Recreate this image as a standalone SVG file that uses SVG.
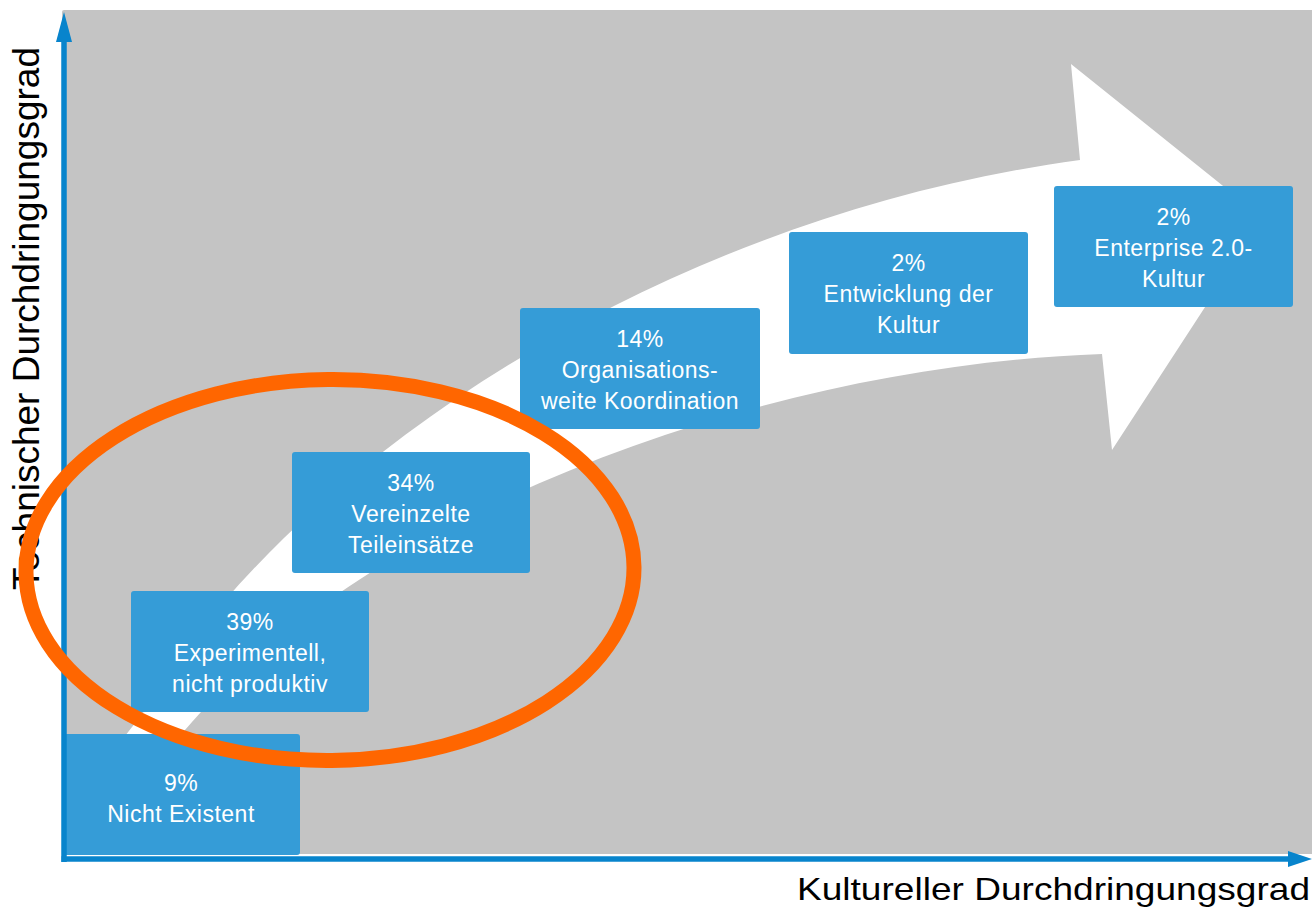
<svg xmlns="http://www.w3.org/2000/svg" width="1312" height="909" viewBox="0 0 1312 909">
<style>
.box{fill:#359cd7;}
.bt{font-family:"Liberation Sans",Arial,sans-serif;font-size:23px;fill:#ffffff;text-anchor:middle;letter-spacing:0.5px;}
.ax{stroke:#0884cc;stroke-width:5.5;fill:none;}
.ah{fill:#0884cc;}
.al{font-family:"Liberation Sans",Arial,sans-serif;fill:#000000;}
</style>
<rect width="1312" height="909" fill="#ffffff"/>
<rect x="62" y="10" width="1260" height="844" rx="2" fill="#c4c4c4"/>
<g id="big-arrow">
<path d="M 114 750 L 143 713 C 280 480, 640 220, 1080 160 L 1071 64 L 1263 218 L 1112 450 L 1102 354 C 780 365, 380 500, 185 730 L 160 760 Z" fill="#ffffff"/>
</g>
<g id="node-nicht-existent">
<rect class="box" x="62" y="734" width="238" height="121" rx="3"/>
<text class="bt" x="181" y="791">9%</text>
<text class="bt" x="181" y="822">Nicht Existent</text>
</g>
<g id="node-experimentell">
<rect class="box" x="131" y="591" width="238" height="121" rx="3"/>
<text class="bt" x="250" y="629.5">39%</text>
<text class="bt" x="250" y="660.5">Experimentell,</text>
<text class="bt" x="250" y="691.5">nicht produktiv</text>
</g>
<g id="node-vereinzelte">
<rect class="box" x="292" y="452" width="238" height="121" rx="3"/>
<text class="bt" x="411" y="490.5">34%</text>
<text class="bt" x="411" y="521.5">Vereinzelte</text>
<text class="bt" x="411" y="552.5">Teileinsätze</text>
</g>
<g id="node-organisation">
<rect class="box" x="520" y="308" width="240" height="121" rx="3"/>
<text class="bt" x="640" y="346.5">14%</text>
<text class="bt" x="640" y="377.5">Organisations-</text>
<text class="bt" x="640" y="408.5">weite Koordination</text>
</g>
<g id="node-entwicklung">
<rect class="box" x="789" y="232" width="239" height="122" rx="3"/>
<text class="bt" x="908.5" y="271">2%</text>
<text class="bt" x="908.5" y="302">Entwicklung der</text>
<text class="bt" x="908.5" y="333">Kultur</text>
</g>
<g id="node-enterprise">
<rect class="box" x="1054" y="186" width="239" height="121" rx="3"/>
<text class="bt" x="1173.5" y="224.5">2%</text>
<text class="bt" x="1173.5" y="255.5">Enterprise 2.0-</text>
<text class="bt" x="1173.5" y="286.5">Kultur</text>
</g>
<g id="connectors">
<line class="ax" x1="64" y1="862" x2="64" y2="40"/>
<polygon class="ah" points="56,42 64,12 72,42"/>
<line class="ax" x1="61.5" y1="859" x2="1290" y2="859"/>
<polygon class="ah" points="1288,851 1312,859 1288,867"/>
</g>
<g id="axis-labels">
<text class="al" x="1310" y="900" font-size="32" text-anchor="end" textLength="513" lengthAdjust="spacingAndGlyphs">Kultureller Durchdringungsgrad</text>
<text class="al" transform="translate(39,318.5) rotate(-90)" x="0" y="0" font-size="36.5" text-anchor="middle" textLength="543" lengthAdjust="spacingAndGlyphs">Technischer Durchdringungsgrad</text>
</g>
<g id="highlight">
<ellipse cx="330" cy="570" rx="304" ry="190.5" transform="rotate(-0.6 330 570)" fill="none" stroke="#ff6600" stroke-width="15"/>
</g>
</svg>
